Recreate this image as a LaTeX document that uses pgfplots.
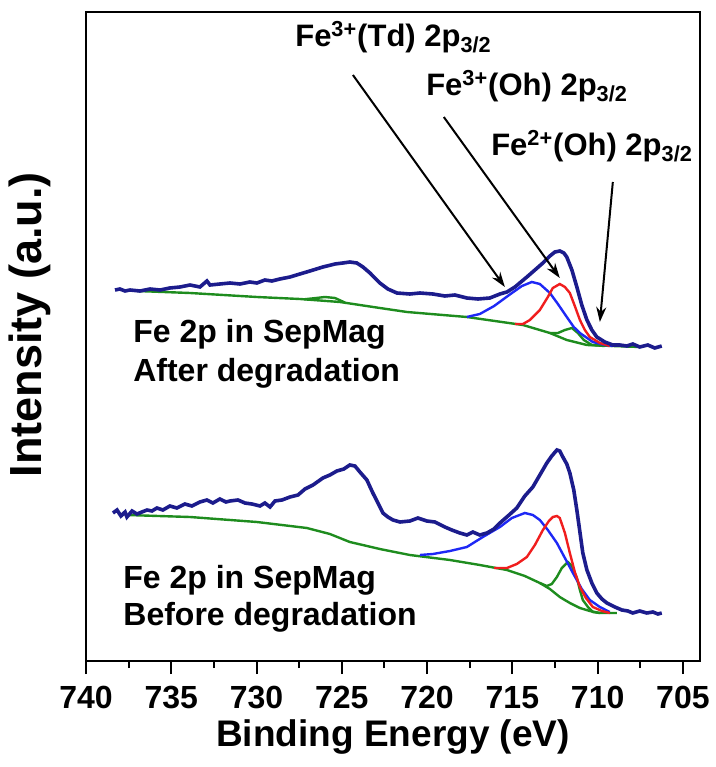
\documentclass[border=0pt]{standalone}
\usepackage{fontspec}
\setmainfont{Liberation Sans}
\usepackage{pgfplots}
\pgfplotsset{compat=1.18}
\usetikzlibrary{arrows.meta}

\definecolor{navyline}{RGB}{28,28,140}
\definecolor{blueline}{RGB}{30,40,245}
\definecolor{redline}{RGB}{240,30,30}
\definecolor{greenline}{RGB}{30,140,30}
\newcommand\fs[1]{\fontsize{#1}{#1}\selectfont\bfseries}

\begin{document}
\begin{tikzpicture}
\begin{axis}[
    at={(43pt,53pt)}, anchor=south west,
    scale only axis, width=307pt, height=324.5pt,
    x dir=reverse,
    xmin=704, xmax=740, ymin=0, ymax=649,
    xtick={705,710,...,740}, minor x tick num=1,
    ytick=\empty,
    xtick pos=left,
    tick align=outside,
    major tick length=6.5pt, minor tick length=3.5pt,
    tick style={line width=1pt, black},
    axis line style={line width=1pt},
    xticklabel style={font=\fs{16}, inner sep=1pt, yshift=-5pt},
    /pgf/number format/assume math mode=true,
    xlabel={Binding Energy (eV)},
    ylabel={Intensity (a.u.)},
    xlabel style={font=\fs{18.5}, inner sep=0pt, at={(axis description cs:0.5,-0.117)}, anchor=center},
    ylabel style={font=\fs{22.5}, inner sep=0pt, at={(axis description cs:-0.091,0.518)}, anchor=center},
]

% ---- after degradation (upper) ----
\addplot[greenline, line width=1.2pt, mark=none] coordinates {
(737.01,370)(733.90,368)(729.98,364)(727.46,362)(725.11,359)(722.77,353)(721.18,349)
(717.67,344)(714.38,336)(712.80,328)(711.81,321)(710.63,316)(709.11,315)(707.53,314)
};
\addplot[greenline, line width=1.2pt, mark=none] coordinates {
(727.20,361.7)(726.50,363)(725.99,364)(725.40,363)(724.80,358.3)
};
\addplot[greenline, line width=1.2pt, mark=none] coordinates {
(712.80,328)(712.33,328)(711.92,331)(711.51,333)(711.16,328)(710.81,321)(710.34,316)(709.58,315)
};
\addplot[blueline, line width=1.2pt, mark=none] coordinates {
(717.67,344)(716.91,347)(716.07,355)(715.19,366)(714.44,375)(713.86,379)(713.39,377)
(712.80,368)(712.33,357)(711.81,344)(711.40,334)(711.04,328)(710.28,319)(709.58,316)(709.11,315)
};
\addplot[redline, line width=1.2pt, mark=none] coordinates {
(714.85,337)(714.38,337)(713.97,341)(713.39,351)(712.92,364)(712.63,373)(712.22,377)
(711.92,374)(711.63,368)(711.34,355)(711.04,341)(710.75,331)(710.46,324)(709.87,318)(709.29,315)
};
\addplot[navyline, line width=1.8pt, mark=none] coordinates {
(738.30,371)(738.01,372)(737.71,370)(737.42,371)(736.83,370)(736.25,372)(735.66,371)
(735.08,373)(734.49,374)(733.90,376)(733.32,374)(732.91,380)(732.73,376)(732.15,377)
(731.56,378)(730.97,377)(730.39,379)(729.98,378)(729.51,381)(729.10,380)(728.63,382)
(728.04,384)(727.46,387)(726.87,390)(726.11,394)(725.40,397)(724.94,398)(724.53,399)
(724.12,398)(723.76,394)(723.35,388)(722.77,378)(722.30,372)(721.77,368)(721.01,367)
(720.42,368)(719.66,367)(718.96,365)(718.37,366)(717.67,363)(717.02,362)(716.32,363)
(715.73,367)(715.32,369)(714.85,374)(714.15,384)(713.68,391)(713.21,398)(712.80,405)
(712.51,409)(712.22,410)(711.98,408)(711.81,404)(711.51,391)(711.22,374)(710.93,356)
(710.63,341)(710.34,331)(710.05,324)(709.58,319)(709.11,316)(708.70,316)(708.29,315)
(707.94,317)(707.53,314)(707.06,316)(706.65,313)(706.24,315)
};

% ---- before degradation (lower) ----
\addplot[greenline, line width=1.2pt, mark=none] coordinates {
(737.60,146)(733.90,144)(729.98,139)(727.05,133)(725.70,127)(724.53,119)(722.77,112)
(721.01,106)(718.66,101)(716.91,96)(715.32,91)(714.27,85)(713.39,78)(712.80,72)
(712.22,64)(711.63,58)(711.04,53)(710.46,50)(709.87,48)(708.88,48)
};
\addplot[greenline, line width=1.2pt, mark=none] coordinates {
(713.39,78)(712.98,75)(712.69,77)(712.39,84)(712.10,93)(711.75,99)(711.51,95)
(711.22,83)(711.04,71)(710.87,61)(710.57,54)(710.28,49)(709.87,48)
};
\addplot[blueline, line width=1.2pt, mark=none] coordinates {
(720.42,106)(719.66,107)(718.66,110)(717.67,114)(716.73,124)(715.73,134)(715.03,143)
(714.27,148)(713.80,146)(713.39,141)(712.92,131)(712.39,118)(711.92,103)(711.45,88)
(710.93,72)(710.46,61)(709.87,54)(709.29,49)
};
\addplot[redline, line width=1.2pt, mark=none] coordinates {
(716.07,93)(715.32,93)(714.74,97)(714.15,104)(713.68,116)(713.21,131)(712.86,140)
(712.63,144)(712.39,145)(712.22,143)(711.92,128)(711.63,108)(711.34,89)(711.04,74)
(710.69,63)(710.28,54)(709.75,50)(709.29,48)
};
\addplot[navyline, line width=1.8pt, mark=none] coordinates {
(738.42,148)(738.18,151)(737.95,145)(737.71,149)(737.60,144)(737.30,150)(737.01,147)
(736.72,149)(736.42,151)(736.13,150)(735.84,153)(735.49,151)(735.08,155)(734.67,153)
(734.20,157)(733.79,155)(733.32,159)(732.91,161)(732.56,158)(732.15,162)(731.79,159)
(731.56,160)(731.09,161)(730.68,158)(730.27,157)(729.80,155)(729.51,158)(729.21,154)
(728.92,160)(728.51,161)(728.04,164)(727.57,166)(727.16,172)(726.69,176)(726.11,183)
(725.70,186)(725.29,190)(724.88,192)(724.53,196)(724.23,195)(723.94,189)(723.53,181)
(723.18,168)(722.88,158)(722.59,148)(722.30,144)(722.00,141)(721.59,139)(721.01,140)
(720.54,143)(720.01,140)(719.54,139)(718.96,134)(718.55,131)(718.08,128)(717.67,126)
(717.32,129)(716.91,126)(716.49,128)(716.08,132)(715.73,138)(715.26,145)(714.74,153)
(714.27,165)(713.80,174)(713.39,186)(712.98,198)(712.69,205)(712.39,211)(712.22,210)
(712.04,204)(711.81,197)(711.63,188)(711.40,171)(711.22,151)(711.04,129)(710.87,108)
(710.63,91)(710.34,78)(710.05,68)(709.75,62)(709.46,58)(708.99,54)(708.58,51)
(708.23,50)(707.94,48)(707.53,50)(707.12,48)(706.76,49)(706.47,47)(706.24,48)
};

% ---- annotations ----
\node[anchor=base west, font=\fs{15.5}, inner sep=0pt] at (axis cs:727.75,614)
  {Fe\textsuperscript{3+}(Td) 2p\textsubscript{3/2}};
\node[anchor=base west, font=\fs{15.5}, inner sep=0pt] at (axis cs:720.07,565)
  {Fe\textsuperscript{3+}(Oh) 2p\textsubscript{3/2}};
\node[anchor=base west, font=\fs{15.5}, inner sep=0pt] at (axis cs:716.26,505)
  {Fe\textsuperscript{2+}(Oh) 2p\textsubscript{3/2}};
\draw[line width=1pt, -{Stealth[length=7.5pt,width=5pt]}] (axis cs:724.35,586) -- (axis cs:715.44,374);
\draw[line width=1pt, -{Stealth[length=7.5pt,width=5pt]}] (axis cs:719.02,544) -- (axis cs:712.22,383);
\draw[line width=1pt, -{Stealth[length=7.5pt,width=5pt]}] (axis cs:709.11,479) -- (axis cs:709.87,339);

\node[anchor=base west, font=\fs{16}, inner sep=0pt] at (axis cs:737.25,318) {Fe 2p in SepMag};
\node[anchor=base west, font=\fs{16}, inner sep=0pt] at (axis cs:737.25,279) {After degradation};
\node[anchor=base west, font=\fs{16}, inner sep=0pt] at (axis cs:737.83,73) {Fe 2p in SepMag};
\node[anchor=base west, font=\fs{16}, inner sep=0pt] at (axis cs:737.83,36) {Before degradation};
\end{axis}
\pgfresetboundingbox
\useasboundingbox (0,0) rectangle (358pt,383.5pt);
\end{tikzpicture}
\end{document}
